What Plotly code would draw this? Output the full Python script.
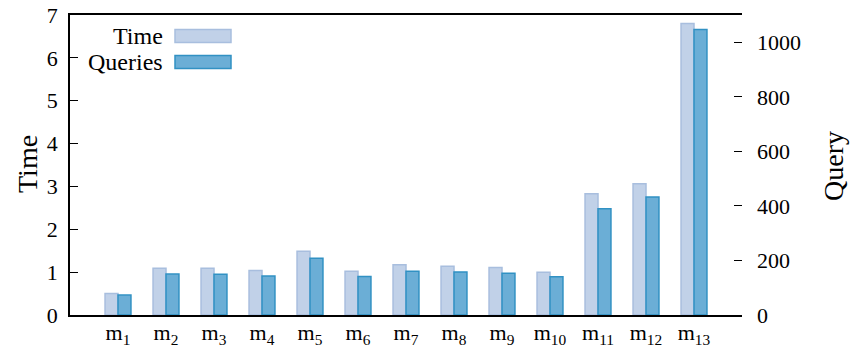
import plotly.graph_objects as go

categories = ["m<sub>%d</sub>" % i for i in range(1, 14)]
time_values = [0.50, 1.09, 1.09, 1.04, 1.49, 1.02, 1.17, 1.14, 1.11, 1.00, 2.83, 3.06, 6.80]
query_values = [73, 150, 149, 143, 208, 141, 160, 158, 153, 140, 390, 433, 1047]
time_ticks = [0, 1, 2, 3, 4, 5, 6, 7]
query_ticks = [0, 200, 400, 600, 800, 1000]

xpos = list(range(1, len(categories) + 1))
FONT = "Liberation Serif"
TICKFONT = dict(family=FONT, size=22, color="black")

L, R, T, B = 70, 742, 15, 315
PW, PH = R - L, B - T

def px(x):
    return (x - L) / PW

def py(y):
    return (B - y) / PH

fig = go.Figure()
fig.add_trace(go.Bar(
    x=xpos, y=time_values, name="Time", yaxis="y", xaxis="x",
    width=0.27, offset=-0.27,
    marker=dict(color="rgb(193,209,232)", line=dict(color="rgb(168,190,222)", width=1.5)),
    showlegend=False,
))
fig.add_trace(go.Bar(
    x=xpos, y=query_values, name="Queries", yaxis="y2", xaxis="x",
    width=0.27, offset=0.0,
    marker=dict(color="rgb(107,174,214)", line=dict(color="rgb(49,145,195)", width=1.5)),
    showlegend=False,
))

fig.update_layout(
    width=853, height=352,
    margin=dict(l=L, r=853 - R, t=T, b=352 - B),
    paper_bgcolor="white", plot_bgcolor="white",
    font=dict(family=FONT, size=22, color="black"),
    barmode="overlay",
    xaxis=dict(
        range=[0, 14], tickvals=xpos, ticktext=categories,
        ticks="", showline=True, linecolor="black", linewidth=1.5, mirror=True,
        showgrid=False, zeroline=False, tickfont=TICKFONT, automargin=False,
        ticklabelstandoff=-3,
    ),
    xaxis2=dict(
        range=[0, 14], tickvals=xpos, overlaying="x", side="top",
        ticks="inside", ticklen=8, tickcolor="black", tickwidth=1,
        showticklabels=False, showgrid=False, zeroline=False, showline=False,
        automargin=False,
    ),
    yaxis=dict(
        range=[0, 7], tickvals=time_ticks,
        ticks="inside", ticklen=8, tickcolor="black", tickwidth=1,
        showline=True, linecolor="black", linewidth=1.5,
        showgrid=False, zeroline=False, tickfont=TICKFONT, automargin=False,
        ticklabelstandoff=6,
    ),
    yaxis2=dict(
        range=[0, 1100], tickvals=query_ticks, overlaying="y", side="right",
        ticks="inside", ticklen=8, tickcolor="black", tickwidth=1,
        showline=False, showgrid=False, zeroline=False, tickfont=TICKFONT,
        automargin=False, ticklabelstandoff=14,
    ),
)

# axis titles
fig.add_annotation(xref="paper", yref="paper", x=px(27), y=py(164), text="Time",
                   textangle=-90, showarrow=False, xanchor="center", yanchor="middle",
                   font=dict(family=FONT, size=28, color="black"))
fig.add_annotation(xref="paper", yref="paper", x=px(833), y=py(166), text="Query",
                   textangle=-90, showarrow=False, xanchor="center", yanchor="middle",
                   font=dict(family=FONT, size=28, color="black"))

# legend drawn with text on the left and swatch on the right
legend_items = [("Time", "rgb(193,209,232)", "rgb(168,190,222)", 36),
                ("Queries", "rgb(107,174,214)", "rgb(49,145,195)", 62)]
for label, fill, edge, yc in legend_items:
    fig.add_annotation(
        xref="paper", yref="paper", x=px(165), y=py(yc),
        text=label, showarrow=False, xanchor="right", yanchor="middle",
        font=dict(family=FONT, size=24, color="black"),
    )
    fig.add_shape(
        type="rect", xref="paper", yref="paper",
        x0=px(175), x1=px(231), y0=py(yc + 6.5), y1=py(yc - 6.5),
        fillcolor=fill, line=dict(color=edge, width=1.5),
    )

fig.write_html("out.html")
